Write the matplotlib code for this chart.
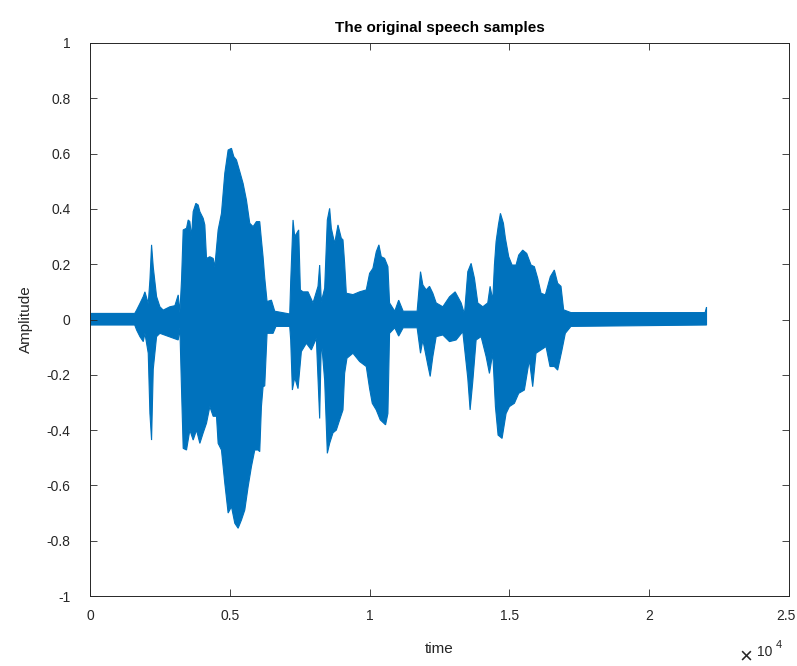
import numpy as np
import matplotlib
matplotlib.use('Agg')
import matplotlib.pyplot as plt
import matplotlib.transforms as mtransforms

# === Waveform envelope ===
# upper (max) envelope: sample index, amplitude
upper_t = [0, 1600, 1667, 1786, 1905, 1964, 2083, 2143, 2202, 2262, 2381, 2500, 2619,
           2857, 3036, 3155, 3214, 3274, 3333, 3452, 3512, 3571, 3631, 3690, 3786,
           3869, 3929, 4048, 4107, 4167, 4286, 4405, 4464, 4583, 4702, 4821, 4940,
           5060, 5143, 5238, 5357, 5476, 5595, 5714, 5833, 5952, 6071, 6131, 6190,
           6250, 6333, 6488, 6607, 7143, 7178, 7262, 7321, 7464, 7524, 7619, 7798,
           7976, 8155, 8214, 8274, 8393, 8488, 8571, 8631, 8750, 8869, 8988, 9048,
           9107, 9167, 9405, 9643, 9881, 10000, 10119, 10238, 10333, 10417, 10536,
           10655, 10714, 10900, 11040, 11200, 11700, 11821, 11905, 12024, 12143,
           12262, 12381, 12619, 12857, 13060, 13274, 13393, 13512, 13631, 13750,
           13869, 14048, 14226, 14310, 14405, 14464, 14524, 14607, 14679, 14786,
           14857, 14976, 15095, 15238, 15333, 15476, 15619, 15774, 15893, 16012,
           16131, 16286, 16464, 16607, 16726, 16845, 16940, 17200, 22000, 22050]
upper_v = [0.022, 0.022, 0.034, 0.058, 0.083, 0.10, 0.058, 0.143, 0.27, 0.19, 0.083, 0.046, 0.034,
           0.046, 0.05, 0.089, 0.025, 0.143, 0.324, 0.33, 0.36, 0.354, 0.30, 0.39, 0.42,
           0.414, 0.39, 0.366, 0.342, 0.221, 0.227, 0.221, 0.191, 0.324, 0.384, 0.529, 0.613,
           0.619, 0.589, 0.577, 0.535, 0.492, 0.432, 0.348, 0.336, 0.354, 0.354, 0.288, 0.227,
           0.15, 0.065, 0.07, 0.03, 0.02, 0.137, 0.36, 0.30, 0.324, 0.107, 0.10, 0.10,
           0.06, 0.12, 0.197, 0.065, 0.113, 0.36, 0.402, 0.33, 0.275, 0.342, 0.294, 0.288,
           0.203, 0.095, 0.09, 0.10, 0.107, 0.167, 0.185, 0.245, 0.27, 0.227, 0.221,
           0.191, 0.06, 0.03, 0.07, 0.03, 0.03, 0.173, 0.125, 0.107, 0.12,
           0.095, 0.06, 0.046, 0.082, 0.10, 0.06, 0.02, 0.173, 0.203, 0.149,
           0.06, 0.046, 0.06, 0.12, 0.07, 0.197, 0.282, 0.342, 0.384, 0.348,
           0.294, 0.227, 0.197, 0.197, 0.233, 0.251, 0.239, 0.197, 0.191, 0.149,
           0.095, 0.089, 0.155, 0.179, 0.131, 0.12, 0.035, 0.025, 0.025, 0.045]

# lower (min) envelope: sample index, amplitude
lower_t = [0, 1600, 1667, 1786, 1905, 1964, 2083, 2143, 2202, 2262, 2381, 2500, 3155,
           3214, 3274, 3333, 3452, 3571, 3690, 3810, 3929, 4048, 4167, 4286, 4405,
           4524, 4583, 4702, 4821, 4940, 5060, 5179, 5298, 5417, 5536, 5655, 5774,
           5893, 6012, 6071, 6131, 6190, 6250, 6333, 6548, 6650, 7143, 7178, 7238,
           7321, 7440, 7560, 7738, 7917, 8095, 8214, 8274, 8393, 8488, 8571, 8690,
           8810, 8929, 9048, 9107, 9190, 9405, 9643, 9881, 10000, 10095, 10238, 10381,
           10571, 10655, 10714, 10900, 11040, 11200, 11700, 11821, 11905, 12083, 12167,
           12262, 12381, 12619, 12857, 13095, 13333, 13512, 13595, 13690, 13810, 13988,
           14167, 14286, 14405, 14500, 14595, 14738, 14881, 15000, 15179, 15333, 15536,
           15714, 15833, 15952, 16131, 16310, 16452, 16607, 16726, 16881, 17000, 17200,
           22000, 22050]
lower_v = [-0.02, -0.02, -0.038, -0.062, -0.08, -0.05, -0.122, -0.34, -0.436, -0.18, -0.062, -0.05, -0.074,
           -0.03, -0.255, -0.466, -0.472, -0.40, -0.436, -0.40, -0.448, -0.41, -0.375, -0.315, -0.35,
           -0.35, -0.448, -0.472, -0.592, -0.70, -0.677, -0.737, -0.755, -0.725, -0.689, -0.605, -0.532,
           -0.472, -0.472, -0.478, -0.315, -0.243, -0.24, -0.05, -0.05, -0.025, -0.025, -0.074, -0.255,
           -0.21, -0.25, -0.116, -0.086, -0.11, -0.068, -0.358, -0.074, -0.22, -0.484, -0.448, -0.41,
           -0.40, -0.363, -0.327, -0.195, -0.14, -0.122, -0.152, -0.17, -0.25, -0.303, -0.327, -0.363,
           -0.381, -0.34, -0.05, -0.03, -0.06, -0.03, -0.03, -0.122, -0.074, -0.165, -0.206,
           -0.134, -0.062, -0.056, -0.08, -0.074, -0.044, -0.213, -0.327, -0.225, -0.074, -0.062,
           -0.134, -0.195, -0.122, -0.315, -0.418, -0.43, -0.34, -0.315, -0.303, -0.267, -0.255,
           -0.146, -0.243, -0.122, -0.11, -0.098, -0.17, -0.17, -0.183, -0.11, -0.05, -0.025,
           -0.02, -0.02]

x_ticks = [0, 5000, 10000, 15000, 20000, 25000]
x_tick_labels = ['0', '0.5', '1', '1.5', '2', '2.5']
y_ticks = [-1, -0.8, -0.6, -0.4, -0.2, 0, 0.2, 0.4, 0.6, 0.8, 1]
y_tick_labels = ['-1', '-0.8', '-0.6', '-0.4', '-0.2', '0', '0.2', '0.4', '0.6', '0.8', '1']

plt.rcParams['font.family'] = ['Liberation Sans', 'DejaVu Sans']
BLUE = '#0072BD'
DARK = '#262626'

fig = plt.figure(figsize=(7.97, 6.66), dpi=100)
ax = fig.add_axes([90 / 797, 70 / 666, 699 / 797, 553 / 666])

# closed outline: upper envelope left->right, lower envelope right->left
poly_x = np.concatenate([upper_t, lower_t[::-1]])
poly_y = np.concatenate([upper_v, lower_v[::-1]])
ax.fill(poly_x, poly_y, color=BLUE, linewidth=0.8, edgecolor=BLUE)

ax.set_xlim(0, 25000)
ax.set_ylim(-1, 1)
ax.set_xticks(x_ticks)
ax.set_xticklabels(x_tick_labels)
ax.set_yticks(y_ticks)
ax.set_yticklabels(y_tick_labels)
ax.tick_params(direction='in', top=True, right=True, length=5, width=0.6,
               colors=DARK, labelsize=10, labelcolor=DARK, pad=9)
ax.tick_params(axis='y', pad=14)
for sp in ax.spines.values():
    sp.set_color(DARK)
    sp.set_linewidth(0.7)

# keep the last x label inside the canvas
last = ax.get_xticklabels()[-1]
last.set_transform(last.get_transform() +
                   mtransforms.ScaledTranslation(-3 / 100, 0, fig.dpi_scale_trans))

ax.set_title('The original speech samples', fontsize=11, fontweight='bold', color='black', pad=8)
ax.set_xlabel('time', fontsize=11, color=DARK, labelpad=14)
ax.set_ylabel('Amplitude', fontsize=11, color=DARK, labelpad=10)

# MATLAB-style exponent label
fig.text(746 / 797, 1 - 657 / 666, '\u00d7', fontsize=16, color=DARK, ha='center', va='center')
fig.text(757 / 797, 1 - 652 / 666, '10', fontsize=10, color=DARK, ha='left', va='center')
fig.text(776 / 797, 1 - 645 / 666, '4', fontsize=8, color=DARK, ha='left', va='center')

fig.savefig('out.png', dpi=100)
